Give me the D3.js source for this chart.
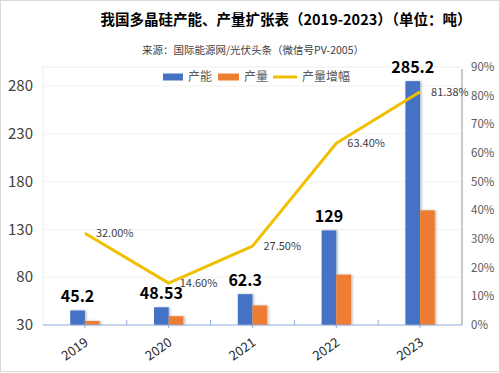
<!DOCTYPE html>
<html>
<head>
<meta charset="utf-8">
<script src="https://cdn.jsdelivr.net/npm/d3@7"></script>
<style>
  body { margin: 0; background: #fff; }
  svg text { font-family: "Noto Sans CJK SC", "Noto Sans", sans-serif; }
</style>
</head>
<body>
<svg width="500" height="373"></svg>
<script>
var width = 500;
var height = 373;

// data
var years = ["2019", "2020", "2021", "2022", "2023"];
var capacity = [45.2, 48.53, 62.3, 129, 285.2];
var output = [34.2, 39.2, 50.5, 82.7, 150];
var growth = [32.00, 14.60, 27.50, 63.40, 81.38];
var leftTicks = [30, 80, 130, 180, 230, 280];
var rightTicks = [0, 10, 20, 30, 40, 50, 60, 70, 80, 90];

var svg = d3.select("svg");

svg.append("rect")
    .attr("x", 0.5).attr("y", 0.5)
    .attr("width", width - 1).attr("height", height - 2)
    .style("fill", "#fff").style("stroke", "#d9d9d9");

var defs = svg.append("defs");
var shadow = defs.append("filter").attr("id", "shadow")
    .attr("x", "-30%").attr("y", "-10%").attr("width", "160%").attr("height", "120%");
shadow.append("feDropShadow")
    .attr("dx", 1.5).attr("dy", 0).attr("stdDeviation", 1.2)
    .attr("flood-color", "#000").attr("flood-opacity", 0.25);

var plotLeft = 43, plotRight = 462, plotTop = 67, plotBottom = 325;

//scales
var x = d3.scaleBand().domain(years).range([plotLeft, plotRight]);
var yLeft = d3.scaleLinear().domain([30, 300]).range([plotBottom, plotTop]);
var yRight = d3.scaleLinear().domain([0, 90]).range([plotBottom, plotTop]);

// plot area border + grid
svg.append("path")
    .attr("d", "M" + plotLeft + "," + plotBottom + "V" + plotTop + "H" + plotRight)
    .style("fill", "none").style("stroke", "#ededed");

svg.append("g").selectAll("line")
    .data(leftTicks.slice(1))
    .enter().append("line")
    .attr("x1", plotLeft).attr("x2", plotRight)
    .attr("y1", function(d){ return yLeft(d); })
    .attr("y2", function(d){ return yLeft(d); })
    .style("stroke", "#f2f2f2");

// bars
var barW = 14.7;
var bars = svg.append("g").attr("filter", "url(#shadow)");
bars.selectAll(".cap")
    .data(capacity)
    .enter().append("rect").attr("class", "cap")
    .attr("x", function(d, i){ return x(years[i]) + x.bandwidth() / 2 - barW; })
    .attr("y", function(d){ return yLeft(d); })
    .attr("width", barW)
    .attr("height", function(d){ return plotBottom - yLeft(d); })
    .style("fill", "#4472c4");
bars.selectAll(".out")
    .data(output)
    .enter().append("rect").attr("class", "out")
    .attr("x", function(d, i){ return x(years[i]) + x.bandwidth() / 2; })
    .attr("y", function(d){ return yLeft(d); })
    .attr("width", barW)
    .attr("height", function(d){ return plotBottom - yLeft(d); })
    .style("fill", "#ed7d31");

// value labels
svg.append("g").selectAll("text")
    .data(capacity)
    .enter().append("text")
    .attr("x", function(d, i){ return x(years[i]) + x.bandwidth() / 2 - barW / 2; })
    .attr("y", function(d){ return yLeft(d) - 8; })
    .attr("text-anchor", "middle")
    .style("font-size", "16px").style("font-weight", "bold").style("fill", "#000")
    .text(function(d){ return d; });

// x axis
var axisY = plotBottom;
svg.append("line")
    .attr("x1", plotLeft).attr("x2", plotRight)
    .attr("y1", axisY).attr("y2", axisY)
    .style("stroke", "#8faadc").style("stroke-width", 1.2);
svg.append("g").selectAll("line")
    .data(years.slice(1))
    .enter().append("line")
    .attr("x1", function(d){ return x(d); }).attr("x2", function(d){ return x(d); })
    .attr("y1", axisY - 5).attr("y2", axisY)
    .style("stroke", "#8faadc");
svg.append("g").selectAll("line")
    .data(years)
    .enter().append("line")
    .attr("x1", function(d){ return x(d) + x.bandwidth() / 2; })
    .attr("x2", function(d){ return x(d) + x.bandwidth() / 2; })
    .attr("y1", axisY).attr("y2", axisY + 3)
    .style("stroke", "#8faadc");

svg.append("g").selectAll("text")
    .data(years)
    .enter().append("text")
    .attr("transform", function(d){
        return "translate(" + (x(d) + x.bandwidth() / 2 - 1) + "," + (axisY + 12) + ") rotate(-35)";
    })
    .attr("text-anchor", "end")
    .attr("dy", "0.7em")
    .style("font-size", "13px").style("fill", "#262626")
    .text(function(d){ return d; });

// left axis labels
svg.append("g").selectAll("text")
    .data(leftTicks)
    .enter().append("text")
    .attr("x", 33)
    .attr("y", function(d){ return yLeft(d); })
    .attr("dy", "0.35em")
    .attr("text-anchor", "end")
    .style("font-size", "15px").style("fill", "#404040")
    .text(function(d){ return d; });

// right axis
svg.append("line")
    .attr("x1", plotRight).attr("x2", plotRight)
    .attr("y1", plotTop + 2).attr("y2", plotBottom)
    .style("stroke", "#a6a6a6").style("stroke-width", 1.2);
svg.append("g").selectAll("text")
    .data(rightTicks)
    .enter().append("text")
    .attr("x", 471)
    .attr("y", function(d){ return yRight(d); })
    .attr("dy", "0.35em")
    .style("font-size", "11.5px").style("fill", "#595959")
    .text(function(d){ return d + "%"; });

// growth line
var line = d3.line()
    .x(function(d, i){ return x(years[i]) + x.bandwidth() / 2; })
    .y(function(d){ return yRight(d); });
svg.append("path")
    .datum(growth)
    .attr("d", line)
    .style("fill", "none").style("stroke", "#f2bf00")
    .style("stroke-width", 3).style("stroke-linejoin", "round");

svg.append("g").selectAll("text")
    .data(growth)
    .enter().append("text")
    .attr("x", function(d, i){ return x(years[i]) + x.bandwidth() / 2 + 11; })
    .attr("y", function(d){ return yRight(d); })
    .attr("dy", "0.35em")
    .style("font-size", "11px").style("fill", "#404040")
    .text(function(d){ return d.toFixed(2) + "%"; });

// title
svg.append("text")
    .attr("x", 286).attr("y", 25)
    .attr("text-anchor", "middle")
    .style("font-size", "14.5px").style("font-weight", "bold").style("fill", "#000")
    .text("我国多晶硅产能、产量扩张表（2019-2023）（单位：吨）");
svg.append("text")
    .attr("x", 253).attr("y", 54)
    .attr("text-anchor", "middle")
    .style("font-size", "10.5px").style("fill", "#404040")
    .text("来源：国际能源网/光伏头条（微信号PV-2005）");

// legend
var legend = svg.append("g").attr("transform", "translate(0,77)");
var legendItems = [
    {name: "产能", type: "rect", color: "#4472c4", x: 163, w: 20},
    {name: "产量", type: "rect", color: "#ed7d31", x: 218, w: 21},
    {name: "产量增幅", type: "line", color: "#f2bf00", x: 273, w: 24}
];
legendItems.forEach(function(d){
    if (d.type == "rect") {
        legend.append("rect")
            .attr("x", d.x).attr("y", -3.5)
            .attr("width", d.w).attr("height", 7)
            .style("fill", d.color);
    } else {
        legend.append("line")
            .attr("x1", d.x).attr("x2", d.x + d.w)
            .attr("y1", 0).attr("y2", 0)
            .style("stroke", d.color).style("stroke-width", 3);
    }
    legend.append("text")
        .attr("x", d.x + d.w + 5).attr("y", 0)
        .attr("dy", "0.35em")
        .style("font-size", "12px").style("fill", "#595959")
        .text(d.name);
});
</script>
</body>
</html>
